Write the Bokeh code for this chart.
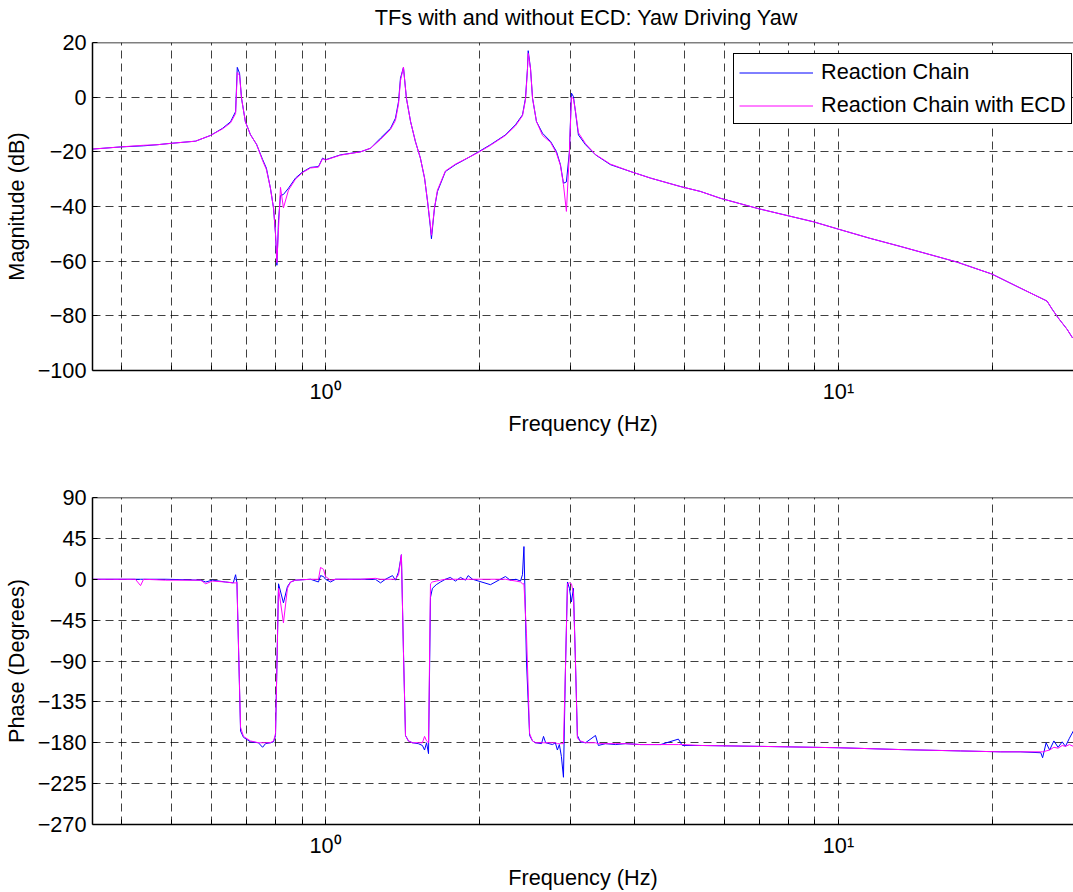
from bokeh.plotting import figure
from bokeh.models import (Range1d, FixedTicker, CustomJSTickFormatter, Legend,
                          LegendItem, Span)
from bokeh.core.properties import value
from bokeh.layouts import column
from bokeh.embed import file_html
from bokeh.resources import INLINE

# ---------------- data ----------------
# Magnitude response (dB) of the yaw->yaw transfer function
freq_mag = [
    0.351, 0.399, 0.442, 0.470, 0.499, 0.558, 0.597, 0.630, 0.653, 0.668,
    0.673, 0.680, 0.686, 0.698, 0.714, 0.734, 0.754, 0.767, 0.781, 0.792,
    0.799, 0.804, 0.810, 0.817, 0.828, 0.847, 0.874, 0.902, 0.935, 0.969,
    0.987, 1.000, 1.070, 1.170, 1.224, 1.280, 1.339, 1.369, 1.388, 1.400,
    1.419, 1.438, 1.465, 1.497, 1.531, 1.560, 1.581, 1.602, 1.609, 1.631,
    1.653, 1.713, 1.792, 1.917, 1.987, 2.097, 2.243, 2.346, 2.421, 2.454,
    2.476, 2.484, 2.510, 2.533, 2.578, 2.649, 2.746, 2.820, 2.871, 2.910,
    2.949, 2.989, 3.016, 3.043, 3.071, 3.112, 3.213, 3.360, 3.594, 3.931,
    4.300, 4.920, 5.383, 5.888, 6.983, 8.940, 10.00, 11.50, 13.20, 17.00,
    19.90, 22.60, 25.50, 26.10, 26.80, 27.90, 28.60,
]
mag_chain = [
    -19.0, -18.2, -17.8, -17.4, -16.9, -16.1, -14.0, -11.4, -9.0, -5.3,
    10.9, 8.7, -0.4, -9.0, -13.7, -17.3, -22.8, -26.0, -33.3, -40.6,
    -50.0, -61.5, -45.0, -36.0, -35.6, -33.3, -29.6, -27.4, -25.7, -25.4,
    -22.3, -22.9, -21.1, -20.0, -18.7, -15.0, -11.4, -7.7, -1.6, 6.9,
    10.9, -0.4, -8.9, -16.2, -22.3, -29.6, -38.1, -47.9, -51.8, -40.6,
    -34.5, -27.2, -24.7, -21.7, -20.0, -17.4, -13.8, -10.1, -6.5, -0.4,
    10.5, 17.0, 10.5, -0.4, -8.9, -13.2, -16.2, -19.9, -24.7, -31.5,
    -31.0, -19.9, 1.5, 0.2, -5.3, -13.8, -17.4, -21.1, -24.7, -27.2,
    -29.6, -32.7, -34.5, -37.0, -40.8, -45.6, -48.3, -51.6, -54.6, -60.3,
    -64.7, -69.8, -74.6, -77.6, -80.7, -84.9, -88.1,
]
mag_chain_ecd = [
    -19.0, -18.2, -17.6, -17.4, -16.9, -16.1, -14.0, -11.6, -9.4, -6.0,
    9.0, 8.0, -0.4, -9.0, -13.7, -17.3, -23.2, -26.5, -33.3, -40.6,
    -50.0, -60.5, -48.0, -33.0, -40.5, -34.0, -30.0, -27.6, -25.9, -25.6,
    -22.5, -23.0, -21.2, -20.0, -18.7, -15.5, -11.8, -8.5, -2.5, 6.0,
    11.0, -0.4, -8.9, -16.2, -22.3, -29.6, -38.1, -47.0, -50.5, -40.6,
    -34.0, -27.0, -24.5, -21.7, -20.2, -17.6, -14.0, -10.5, -6.8, -1.0,
    10.0, 16.0, 10.5, -0.4, -8.9, -14.0, -16.5, -20.5, -25.0, -32.0,
    -41.8, -20.0, 0.0, -0.5, -5.0, -13.0, -17.0, -21.0, -24.5, -27.2,
    -29.6, -32.7, -34.5, -37.0, -40.8, -45.6, -48.3, -51.6, -54.6, -60.3,
    -64.7, -69.8, -74.6, -77.6, -80.7, -84.9, -88.1,
]

# Phase response (degrees)
freq_ph = [
    0.351, 0.426, 0.436, 0.442, 0.488, 0.571, 0.584, 0.602, 0.638, 0.661,
    0.668, 0.672, 0.683, 0.692, 0.714, 0.740, 0.754, 0.764, 0.781, 0.792,
    0.799, 0.810, 0.828, 0.843, 0.855, 0.874, 0.935, 0.969, 0.978, 0.991,
    1.000, 1.023, 1.046, 1.170, 1.251, 1.280, 1.309, 1.351, 1.369, 1.388,
    1.406, 1.419, 1.432, 1.451, 1.477, 1.517, 1.545, 1.560, 1.574, 1.588,
    1.602, 1.616, 1.644, 1.676, 1.713, 1.751, 1.792, 1.833, 1.875, 1.897,
    1.935, 2.097, 2.192, 2.243, 2.291, 2.352, 2.400, 2.421, 2.437, 2.465,
    2.500, 2.533, 2.567, 2.637, 2.661, 2.686, 2.770, 2.806, 2.832, 2.857,
    2.883, 2.910, 2.936, 2.963, 2.989, 3.016, 3.043, 3.071, 3.098, 3.140,
    3.213, 3.360, 3.404, 3.513, 3.674, 3.843, 4.116, 4.502, 4.875, 4.962,
    5.383, 7.050, 10.00, 13.20, 17.30, 20.70, 22.60, 24.80, 25.00, 25.40,
    25.80, 26.30, 26.80, 27.30, 27.70, 28.20, 28.70,
]
ph_chain = [
    0, 0, 0, 0, 0, -1, -3, -1, -3, -4,
    5, -4, -167, -174, -179, -180, -185, -181, -180, -179,
    -172, -5, -26, -8, -3, -1, 0, -3, 4, 3,
    0, -3, 0, 0, 0, -4, 0, 4, -1, 8,
    27, -80, -172, -178, -180, -181, -183, -188, -180, -192,
    -20, -10, -6, -3, 0, 2, -2, 2, -1, 4,
    0, -6, 0, 3, -1, 0, -2, 5, 36, -90,
    -172, -178, -180, -181, -173, -180, -182, -180, -188, -182,
    -195, -218, -100, -3, -10, -25, -10, -90, -172, -179,
    -180, -172, -183, -181, -182, -181, -182, -182, -176, -183,
    -183, -184, -185.5, -187.5, -189, -190, -190, -191, -196.5, -180,
    -188, -178, -185, -179, -184, -175, -167,
]
ph_chain_ecd = [
    0, 0, -7, 0, -1, -1, -5, -2, -3, -4,
    -4, -3, -163, -173, -178, -180, -180, -180, -180, -178,
    -170, -10, -48, -10, -3, -1, 0, 0, 13, 11,
    3, -1, 0, 0, 1, 0, 0, 0, 0, 5,
    27, -80, -172, -178, -180, -180, -180, -173, -178, -180,
    -5, -3, -2, -1, 0, 0, 0, 0, 0, 0,
    0, 0, 0, 0, -1, -2, -3, -5, -5, -60,
    -170, -178, -180, -180, -180, -180, -180, -180, -181, -181,
    -181, -181, -100, -5, -4, -5, -15, -90, -175, -178,
    -180, -180, -181, -181, -181, -181, -182, -182, -182, -182,
    -183, -184, -185.5, -187.5, -189, -190, -190, -190, -190, -189,
    -188, -185, -186, -183, -184, -182, -184,
]

series_names = ["Reaction Chain", "Reaction Chain with ECD"]
series_colors = ["#0000ff", "#ff00ff"]
title_text = "TFs with and without ECD: Yaw Driving Yaw"

# decade grid of the log frequency axis; only the powers of ten are labelled
freq_grid = [0.4, 0.5, 0.6, 0.7, 0.8, 0.9, 1, 2, 3, 4, 5, 6, 7, 8, 9, 10, 20]
freq_label_at = [1, 10]
freq_label_text = ["10\u2070", "10\u00b9"]
mag_ticks = [-100, -80, -60, -40, -20, 0, 20]
phase_ticks = [-270, -225, -180, -135, -90, -45, 0, 45, 90]

F_MIN, F_MAX = 0.3514, 28.72
FONT = "Liberation Sans"
FS = "21.7px"
W = 1073
LEFT = 92


def make_panel(height, top, bottom, y_lo, y_hi, y_ticks, y_label):
    p = figure(width=W, height=height, x_axis_type="log",
               x_range=Range1d(F_MIN, F_MAX), y_range=Range1d(y_lo, y_hi),
               output_backend="svg", toolbar_location=None,
               min_border_left=LEFT, min_border_right=0,
               min_border_top=top, min_border_bottom=bottom)
    p.outline_line_color = None
    p.background_fill_color = "white"
    p.border_fill_color = "white"

    xt = FixedTicker(ticks=freq_grid)
    yt = FixedTicker(ticks=y_ticks)
    p.xaxis.ticker = xt
    p.yaxis.ticker = yt
    p.xgrid.ticker = xt
    p.ygrid.ticker = yt
    p.xaxis.formatter = CustomJSTickFormatter(
        args=dict(at=freq_label_at, txt=freq_label_text),
        code="""
        for (let i = 0; i < at.length; i++) {
            if (Math.abs(tick - at[i]) < 1e-9 * at[i]) { return txt[i]; }
        }
        return '';
        """)

    for ax in (p.xaxis[0], p.yaxis[0]):
        ax.axis_line_color = "black"
        ax.axis_line_width = 1.5
        ax.major_tick_in = 5
        ax.major_tick_out = 0
        ax.minor_tick_in = 0
        ax.minor_tick_out = 0
        ax.major_tick_line_color = "black"
        ax.major_label_text_font = FONT
        ax.major_label_text_font_size = FS
        ax.major_label_text_color = "black"
        ax.axis_label_text_font = FONT
        ax.axis_label_text_font_size = FS
        ax.axis_label_text_font_style = "normal"
        ax.axis_label_text_color = "black"

    p.xaxis.axis_label = "Frequency (Hz)"
    p.xaxis.major_label_standoff = 8
    p.xaxis.axis_label_standoff = 4
    p.yaxis.axis_label = y_label
    p.yaxis.major_label_standoff = 6
    p.yaxis.axis_label_standoff = 6

    for g in (p.xgrid[0], p.ygrid[0]):
        g.grid_line_color = "black"
        g.grid_line_alpha = 0.75
        g.grid_line_dash = "8 5"
        g.grid_line_width = 1

    # top border of the axes box
    p.add_layout(Span(location=y_hi, dimension="width",
                      line_color="black", line_width=1.5))
    return p


# ---- title strip (same horizontal frame as the panels below) ----
TITLE_H = 31
head = figure(width=W, height=TITLE_H,
              x_range=Range1d(LEFT, W), y_range=Range1d(0, TITLE_H),
              output_backend="svg", toolbar_location=None,
              x_axis_location=None, y_axis_location=None,
              min_border_left=LEFT, min_border_right=0,
              min_border_top=0, min_border_bottom=0)
head.outline_line_color = None
head.xgrid.visible = False
head.ygrid.visible = False
head.text(x=[586], y=[TITLE_H - 16.5], text=[title_text],
          text_align="center", text_baseline="middle",
          text_font=value(FONT), text_font_size=FS, text_color="black")

# ---- magnitude ----
p1 = make_panel(446 - TITLE_H, 42 - TITLE_H, 76, -100, 20, mag_ticks, "Magnitude (dB)")
r_mag = [
    p1.line(freq_mag, mag_chain, line_color=series_colors[0], line_width=1),
    p1.line(freq_mag, mag_chain_ecd, line_color=series_colors[1], line_width=1),
]
legend = Legend(
    items=[LegendItem(label=n, renderers=[r]) for n, r in zip(series_names, r_mag)],
    location=(641, 246),
    border_line_color="black", border_line_width=1.5, border_line_alpha=1,
    background_fill_color="white", background_fill_alpha=1,
    label_text_font=FONT, label_text_font_size=FS, label_text_color="black",
    glyph_width=74, glyph_height=25, label_height=25, label_standoff=8,
    padding=5, spacing=7, margin=0,
)
p1.add_layout(legend)

# ---- phase ----
p2 = make_panel(446, 51, 68, -270, 90, phase_ticks, "Phase (Degrees)")
p2.line(freq_ph, ph_chain, line_color=series_colors[0], line_width=1)
p2.line(freq_ph, ph_chain_ecd, line_color=series_colors[1], line_width=1)

layout = column(head, p1, p2, spacing=0)
open("out.html", "w").write(file_html(layout, INLINE))
